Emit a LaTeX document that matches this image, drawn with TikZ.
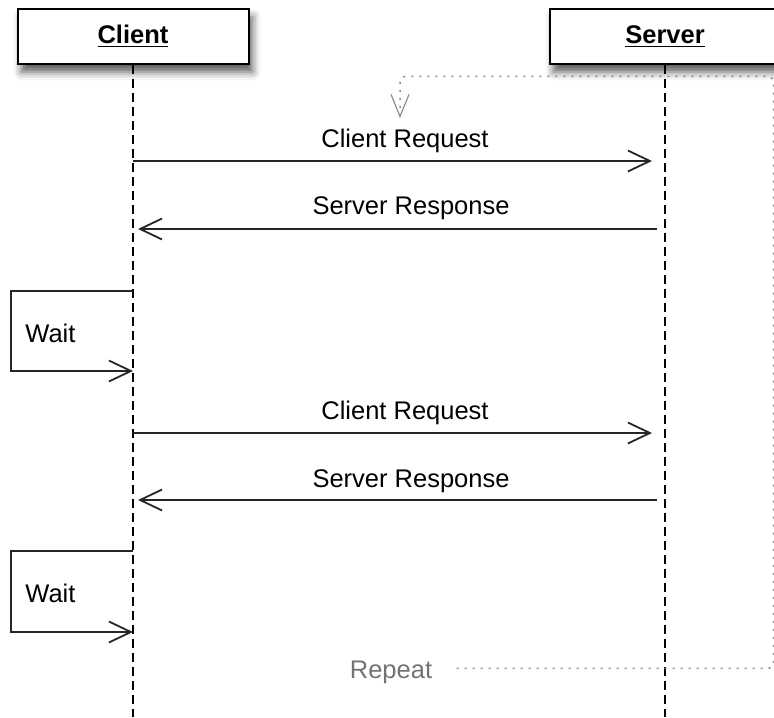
\documentclass[tikz,border=0pt]{standalone}
\usepackage{fontspec}
\setmainfont{Liberation Sans}
\usetikzlibrary{arrows.meta,calc,positioning,shadows.blur}

\begin{document}
\begin{tikzpicture}[x=0.5pt,y=-0.5pt,
  every node/.style={font=\fontsize{12.75}{15}\selectfont,inner sep=0pt},
  actor/.style={draw,line width=1pt,fill=white,minimum width=115.5pt,minimum height=27.5pt,
    blur shadow={shadow xshift=2pt,shadow yshift=-4pt,shadow blur radius=4pt,shadow opacity=65}},
  lifeline/.style={line width=0.9pt,dash pattern=on 4.5pt off 2.5pt},
  msg/.style={line width=0.9pt,draw=black!85,-{Straight Barb[length=11pt,width=10.5pt,line width=0.9pt]}},
  loopback/.style={draw=black!45,line width=0.75pt,dash pattern=on 1pt off 3pt,rounded corners=3pt,
    -{Straight Barb[length=11pt,width=9pt,line width=0.6pt]}}]
\useasboundingbox (0,0) rectangle (774,717);

% the two parties and their lifelines
\node [actor] (ClientBox) at (133,36.5) {\textbf{\underline{Client}}};
\node [actor] (ServerBox) at (665,36.5) {\textbf{\underline{Server}}};
\coordinate (ClientEnd) at (133,717);
\coordinate (ServerEnd) at (665,717);
\draw [lifeline] (ClientBox) -- (ClientEnd);
\draw [lifeline] (ServerBox) -- (ServerEnd);

% first round
\coordinate (Request1Client) at (133,161);
\coordinate (Request1Server) at (665,161);
\coordinate (Response1Server) at (665,229);
\coordinate (Response1Client) at (133,229);
\draw [msg,shorten >=6.5pt] (Request1Client) -- (Request1Server);
\node [anchor=base] (Request1Label) at (405,147) {Client Request};
\draw [msg,shorten <=4pt,shorten >=2.5pt] (Response1Server) -- (Response1Client);
\node [anchor=base] (Response1Label) at (411,214) {Server Response};

\coordinate (Wait1Top) at (133,291);
\coordinate (Wait1Bottom) at (133,371);
\draw [msg] (Wait1Top) -- ++(-122,0) |- (Wait1Bottom);
\node [anchor=base west] (Wait1Label) at (25,342) {Wait};

% second round
\coordinate (Request2Client) at (133,433);
\coordinate (Request2Server) at (665,433);
\coordinate (Response2Server) at (665,500);
\coordinate (Response2Client) at (133,500);
\draw [msg,shorten >=6.5pt] (Request2Client) -- (Request2Server);
\node [anchor=base] (Request2Label) at (405,419) {Client Request};
\draw [msg,shorten <=4pt,shorten >=2.5pt] (Response2Server) -- (Response2Client);
\node [anchor=base] (Response2Label) at (411,487) {Server Response};

\coordinate (Wait2Top) at (133,551);
\coordinate (Wait2Bottom) at (133,632);
\draw [msg] (Wait2Top) -- ++(-122,0) |- (Wait2Bottom);
\node [anchor=base west] (Wait2Label) at (25,602) {Wait};

% back to the top
\node [anchor=base,text=black!55] (RepeatLabel) at (391,678) {Repeat};
\coordinate (RepeatTarget) at (400,118);
\draw [loopback] ($(RepeatLabel.east)+(24,-3.5)$) -| ++(317,-592) -| (RepeatTarget);
\end{tikzpicture}
\end{document}
